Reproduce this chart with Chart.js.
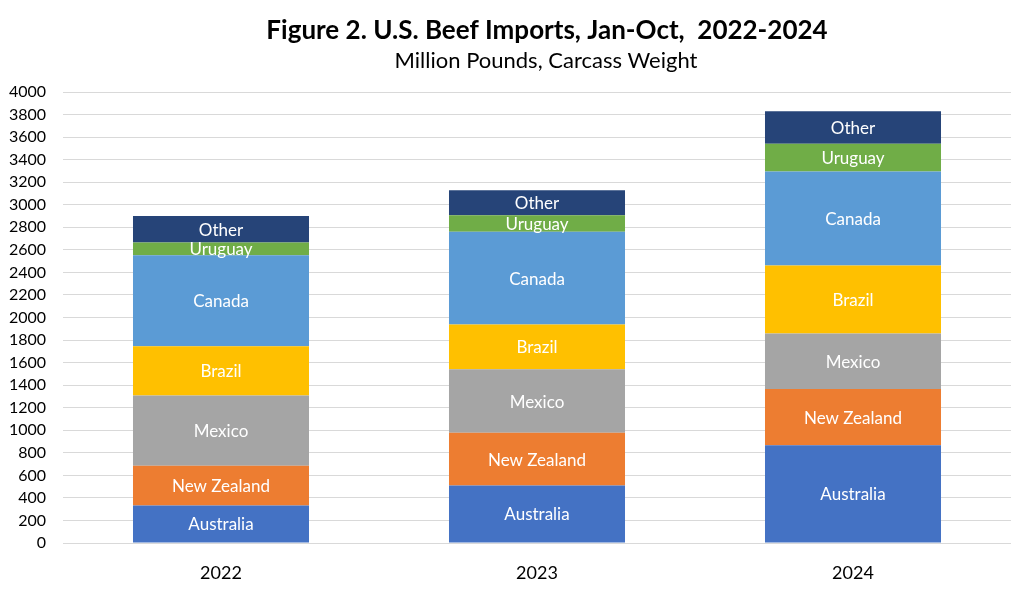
<!DOCTYPE html>
<html>
<head>
<meta charset="utf-8">
<script src="https://cdn.jsdelivr.net/npm/chart.js@4.4.1/dist/chart.umd.min.js"></script>
<style>
html,body{margin:0;padding:0;background:#fff;}
#wrap{width:1024px;height:590px;position:relative;}
</style>
</head>
<body>
<div id="wrap"><canvas id="c" width="1024" height="590"></canvas></div>
<script>
const categories = ["2022", "2023", "2024"];
const australia = [333, 510, 868];
const newZealand = [352, 468, 497];
const mexico = [624, 562, 494];
const brazil = [437, 399, 603];
const canada = [805, 822, 832];
const uruguay = [115, 145, 248];
const other = [234, 222, 287];
const seriesNames = ["Australia", "New Zealand", "Mexico", "Brazil", "Canada", "Uruguay", "Other"];
const seriesColors = ["#4472C4", "#ED7D31", "#A5A5A5", "#FFC000", "#5B9BD5", "#70AD47", "#264478"];
const seriesValues = [australia, newZealand, mexico, brazil, canada, uruguay, other];
const titleText = 'Figure 2. U.S. Beef Imports, Jan-Oct,  2022-2024';
const subtitleText = 'Million Pounds, Carcass Weight';

const FONT = "Lato, 'Open Sans', sans-serif";

const segLabels = {
  id: 'segLabels',
  afterDatasetsDraw(chart) {
    const ctx = chart.ctx;
    ctx.save();
    ctx.fillStyle = '#ffffff';
    ctx.font = '17px ' + FONT;
    ctx.textAlign = 'center';
    ctx.textBaseline = 'middle';
    chart.data.datasets.forEach((ds, i) => {
      const meta = chart.getDatasetMeta(i);
      meta.data.forEach((bar) => {
        const p = bar.getProps(['x', 'y', 'base'], true);
        ctx.fillText(ds.label, p.x, (p.y + p.base) / 2 + 1);
      });
    });
    ctx.restore();
  }
};

const titles = {
  id: 'titles',
  afterDraw(chart) {
    const ctx = chart.ctx;
    ctx.save();
    ctx.fillStyle = '#000';
    ctx.textAlign = 'center';
    ctx.textBaseline = 'alphabetic';
    ctx.font = 'bold 26px ' + FONT;
    ctx.fillText(titleText, 547, 39);
    ctx.font = '22px ' + FONT;
    ctx.fillText(subtitleText, 546, 68);
    ctx.restore();
  }
};

new Chart(document.getElementById('c'), {
  type: 'bar',
  data: {
    labels: categories,
    datasets: seriesNames.map((n, i) => ({
      label: n,
      data: seriesValues[i],
      backgroundColor: seriesColors[i],
      borderWidth: 0,
      barPercentage: 0.557,
      categoryPercentage: 1.0
    }))
  },
  options: {
    responsive: false,
    animation: false,
    devicePixelRatio: 1,
    layout: { padding: { left: 0, right: 13, top: 92, bottom: 0 } },
    plugins: {
      legend: { display: false },
      tooltip: { enabled: false },
      title: { display: false }
    },
    scales: {
      x: {
        stacked: true,
        grid: { display: false, drawTicks: false },
        border: { display: false },
        ticks: { color: '#000', font: { family: FONT, size: 18 }, padding: 19 },
        afterFit(s) { s.height = 47; }
      },
      y: {
        stacked: true,
        min: 0,
        max: 4000,
        grid: { color: '#D9D9D9', lineWidth: 1, drawTicks: false },
        border: { display: false },
        ticks: {
          stepSize: 200, color: '#000', font: { family: FONT, size: 16 }, padding: 17,
          callback: (v) => String(v)
        },
        afterFit(s) { s.width = 63; }
      }
    }
  },
  plugins: [segLabels, titles]
});
</script>
</body>
</html>
